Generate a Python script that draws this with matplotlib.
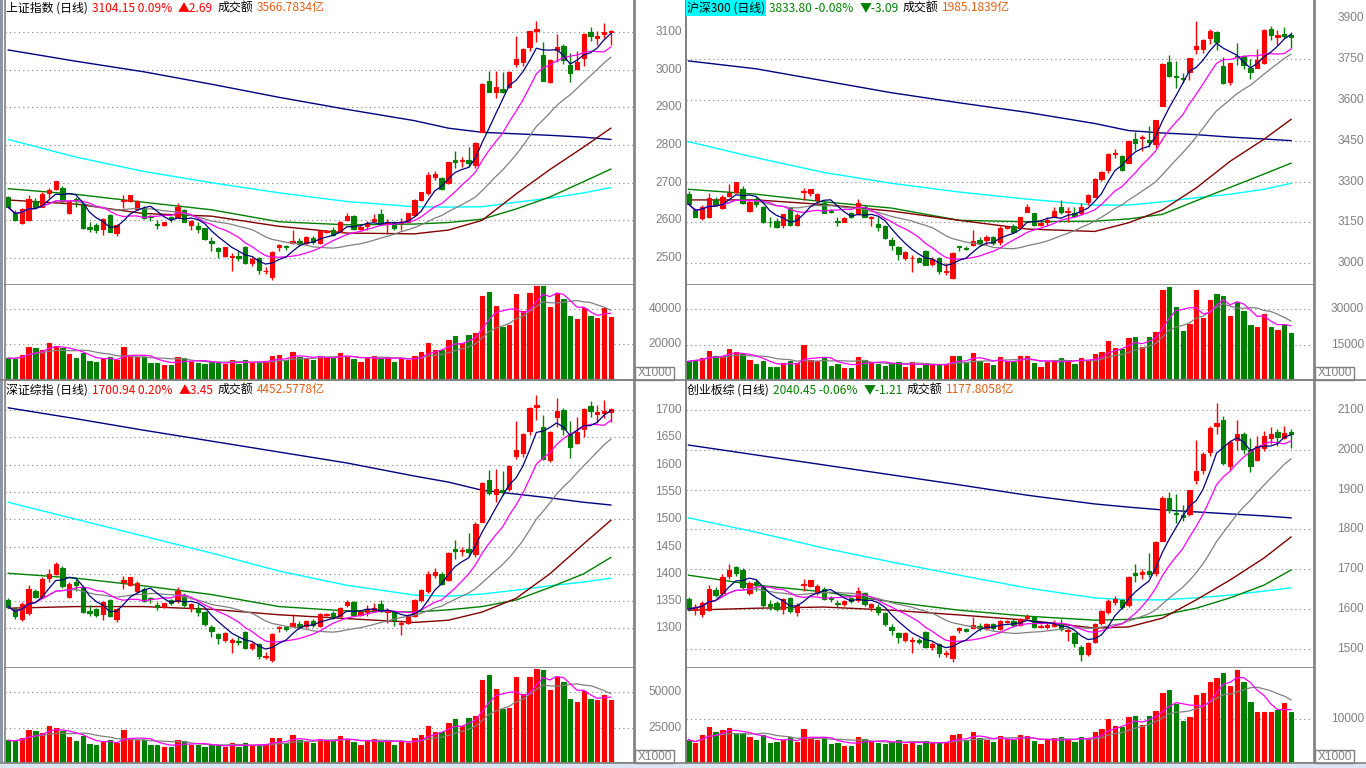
import matplotlib
matplotlib.use("Agg")
import matplotlib.pyplot as plt
import matplotlib.transforms as mtransforms
from matplotlib.patches import Rectangle
from matplotlib.lines import Line2D
import numpy as np
import pandas as pd

plt.rcParams['font.family'] = ['Noto Sans CJK SC', 'DejaVu Sans']

# ---------------- 上证指数 ----------------
sh_open = [2662, 2620, 2594, 2601, 2651, 2636, 2672, 2683, 2687, 2620,
           2656, 2643, 2583, 2588, 2576, 2614, 2567, 2651, 2650, 2629,
           2632, 2611, 2590, 2588, 2610, 2610, 2627, 2588, 2585, 2579,
           2546, 2527, 2505, 2502, 2504, 2530, 2486, 2501, 2464, 2448,
           2530, 2532, 2539, 2545, 2539, 2554, 2539, 2569, 2574, 2570,
           2601, 2612, 2576, 2585, 2598, 2616, 2592, 2594, 2594, 2596,
           2614, 2654, 2672, 2716, 2713, 2698, 2760, 2758, 2760, 2747,
           2836, 2971, 2942, 2948, 2954, 3016, 3022, 3062, 3104, 3040,
           2969, 3053, 3064, 3013, 3002, 3031, 3102, 3086, 3096, 3101]
sh_close = [2635, 2601, 2629, 2656, 2635, 2670, 2681, 2705, 2650, 2651,
            2650, 2579, 2578, 2574, 2604, 2570, 2588, 2655, 2667, 2651,
            2605, 2609, 2587, 2596, 2603, 2636, 2596, 2599, 2576, 2550,
            2539, 2517, 2530, 2505, 2501, 2486, 2497, 2468, 2466, 2515,
            2534, 2528, 2546, 2537, 2555, 2541, 2572, 2572, 2561, 2596,
            2612, 2576, 2583, 2592, 2604, 2596, 2596, 2579, 2596, 2619,
            2654, 2674, 2721, 2723, 2682, 2754, 2756, 2760, 2752, 2805,
            2963, 2942, 2954, 2942, 2995, 3028, 3055, 3103, 3108, 2971,
            3026, 3062, 3026, 2993, 3022, 3096, 3091, 3090, 3101.46, 3104.15]
sh_high = [2664, 2627, 2632, 2667, 2658, 2676, 2685, 2705, 2691, 2654,
           2663, 2645, 2596, 2592, 2605, 2616, 2590, 2667, 2667, 2654,
           2638, 2614, 2601, 2596, 2612, 2647, 2629, 2601, 2596, 2580,
           2555, 2530, 2530, 2514, 2517, 2532, 2503, 2503, 2477, 2517,
           2536, 2534, 2574, 2552, 2557, 2559, 2574, 2574, 2581, 2599,
           2620, 2614, 2588, 2599, 2617, 2629, 2604, 2599, 2605, 2620,
           2656, 2676, 2729, 2731, 2716, 2756, 2783, 2768, 2796, 2807,
           2964, 2998, 2998, 2995, 2997, 3091, 3057, 3104, 3130, 3073,
           3028, 3095, 3068, 3044, 3049, 3097, 3115, 3104, 3125, 3106]
sh_low = [2632, 2599, 2590, 2599, 2631, 2635, 2659, 2681, 2645, 2618,
          2636, 2577, 2570, 2567, 2561, 2568, 2557, 2632, 2648, 2627,
          2604, 2599, 2578, 2586, 2596, 2605, 2595, 2574, 2565, 2548,
          2517, 2499, 2502, 2464, 2493, 2484, 2479, 2457, 2457, 2441,
          2517, 2521, 2537, 2532, 2535, 2536, 2536, 2567, 2558, 2568,
          2599, 2574, 2574, 2574, 2596, 2594, 2563, 2574, 2573, 2595,
          2612, 2650, 2667, 2707, 2681, 2697, 2740, 2743, 2743, 2738,
          2836, 2940, 2926, 2938, 2951, 3009, 3011, 3051, 3075, 2971,
          2966, 3022, 3015, 2969, 3000, 3011, 3078, 3066, 3084, 3066]
sh_vol = [12300, 12100, 14200, 18800, 17900, 17100, 20800, 19400, 17900, 14800,
          12300, 15000, 10800, 10400, 11700, 13100, 11200, 18800, 14200, 12700,
          12700, 9800, 9800, 8500, 8500, 13100, 12300, 10400, 9800, 9200,
          10200, 9800, 8800, 11200, 9200, 11200, 9800, 9800, 10800, 13700,
          14200, 11200, 16000, 13100, 12100, 11200, 13700, 13100, 12300, 15000,
          13500, 12100, 10400, 12300, 13700, 12300, 12700, 10400, 12300, 11200,
          13700, 15600, 20800, 17100, 17100, 22300, 24600, 20800, 25200, 26500,
          47300, 49600, 41500, 30000, 31000, 48300, 38700, 48800, 53100, 53100,
          41000, 48800, 45400, 35800, 34400, 40600, 35800, 35200, 40600, 35667]

# long moving averages at these days
ma_days = [0, 10, 20, 30, 40, 50, 60, 65, 70, 75, 80, 85, 89]
sh_ma60 = [2654, 2643, 2618, 2611, 2584, 2566, 2564, 2574, 2600, 2670, 2735, 2795, 2845]
sh_ma120 = [2684, 2669, 2648, 2628, 2596, 2588, 2590, 2594, 2603, 2630, 2662, 2703, 2736]
sh_ma250 = [2815, 2768, 2730, 2700, 2673, 2650, 2636, 2635, 2636, 2648, 2659, 2673, 2687]
sh_ma500 = [3053, 3023, 2995, 2962, 2927, 2895, 2865, 2845, 2834, 2830, 2826, 2821, 2815]

# ---------------- 沪深300 ----------------
hs_open = [3255, 3196, 3166, 3172, 3233, 3202, 3248, 3261, 3272, 3194,
           3235, 3208, 3153, 3157, 3141, 3202, 3141, 3262, 3257, 3233,
           3223, 3193, 3157, 3153, 3186, 3180, 3208, 3166, 3145, 3137,
           3086, 3061, 3018, 3019, 3018, 3047, 2999, 3018, 2969, 2945,
           3062, 3056, 3067, 3086, 3086, 3098, 3077, 3129, 3137, 3129,
           3190, 3184, 3141, 3151, 3172, 3208, 3187, 3186, 3184, 3227,
           3245, 3310, 3343, 3401, 3395, 3370, 3456, 3460, 3453, 3439,
           3578, 3740, 3689, 3680, 3705, 3787, 3787, 3830, 3849, 3726,
           3668, 3762, 3762, 3717, 3719, 3735, 3860, 3832, 3843, 3840]
hs_close = [3218, 3172, 3208, 3239, 3215, 3245, 3260, 3300, 3223, 3227,
            3218, 3150, 3150, 3135, 3181, 3141, 3178, 3266, 3273, 3255,
            3186, 3187, 3153, 3166, 3172, 3221, 3172, 3169, 3132, 3092,
            3067, 3034, 3043, 3021, 3006, 2994, 3015, 2973, 2972, 3037,
            3060, 3053, 3082, 3076, 3098, 3074, 3129, 3133, 3116, 3169,
            3206, 3141, 3149, 3159, 3192, 3187, 3194, 3174, 3208, 3251,
            3310, 3336, 3402, 3407, 3343, 3451, 3444, 3466, 3447, 3525,
            3733, 3689, 3684, 3676, 3754, 3799, 3821, 3855, 3815, 3664,
            3735, 3757, 3729, 3705, 3748, 3858, 3840, 3840, 3836.89, 3833.80]
hs_high = [3264, 3202, 3214, 3257, 3245, 3251, 3292, 3300, 3284, 3233,
           3245, 3210, 3172, 3165, 3183, 3205, 3184, 3276, 3273, 3257,
           3230, 3198, 3172, 3172, 3189, 3236, 3214, 3174, 3172, 3141,
           3098, 3063, 3047, 3032, 3024, 3049, 3023, 3022, 3000, 3040,
           3064, 3062, 3123, 3096, 3104, 3101, 3136, 3137, 3145, 3172,
           3218, 3184, 3159, 3172, 3208, 3233, 3206, 3206, 3221, 3253,
           3312, 3340, 3407, 3419, 3398, 3453, 3484, 3472, 3505, 3527,
           3735, 3766, 3742, 3701, 3756, 3891, 3823, 3860, 3855, 3760,
           3738, 3811, 3766, 3750, 3787, 3860, 3872, 3858, 3868, 3852]
hs_low = [3214, 3169, 3158, 3166, 3209, 3199, 3243, 3257, 3218, 3190,
          3206, 3147, 3135, 3129, 3129, 3137, 3137, 3233, 3247, 3224,
          3184, 3184, 3138, 3150, 3166, 3177, 3169, 3137, 3120, 3088,
          3049, 3012, 3012, 2969, 3003, 2992, 2991, 2961, 2957, 2941,
          3044, 3050, 3064, 3064, 3067, 3067, 3068, 3125, 3112, 3125,
          3188, 3137, 3137, 3137, 3169, 3181, 3153, 3172, 3178, 3215,
          3243, 3304, 3333, 3387, 3341, 3368, 3415, 3414, 3427, 3424,
          3578, 3684, 3643, 3664, 3674, 3770, 3772, 3805, 3785, 3659,
          3656, 3729, 3713, 3678, 3717, 3733, 3822, 3801, 3827, 3790]
hs_vol = [7900, 8600, 9200, 12200, 10000, 10000, 13200, 11800, 11100, 8400,
          6700, 7900, 5700, 5700, 7100, 8200, 7000, 14700, 8600, 8200,
          9500, 6000, 6700, 5200, 5200, 9600, 8600, 7400, 6700, 6000,
          7000, 7700, 5700, 7400, 5200, 7100, 6700, 6300, 6700, 10000,
          10000, 7400, 11500, 8200, 7000, 6300, 9600, 8200, 7700, 10000,
          10000, 7000, 5700, 7700, 8600, 9200, 8200, 6700, 9200, 8600,
          11100, 11800, 16500, 13500, 13000, 17900, 18300, 14000, 18300, 20100,
          38000, 39500, 31000, 20500, 23700, 38000, 26400, 33600, 36300, 35400,
          27100, 32900, 29000, 23200, 22300, 27800, 22300, 21300, 23400, 19852]
hs_ma60 = [3233, 3233, 3216, 3192, 3158, 3126, 3117, 3149, 3196, 3277, 3375, 3456, 3529]
hs_ma120 = [3272, 3254, 3226, 3203, 3158, 3153, 3155, 3163, 3180, 3230, 3279, 3328, 3368]
hs_ma250 = [3447, 3388, 3334, 3294, 3262, 3236, 3214, 3214, 3226, 3241, 3254, 3272, 3294]
hs_ma500 = [3744, 3715, 3671, 3627, 3590, 3555, 3514, 3488, 3479, 3473, 3464, 3457, 3451]

# ---------------- 深证综指 ----------------
sz_open = [1352, 1335, 1318, 1328, 1368, 1358, 1392, 1400, 1410, 1358,
           1385, 1375, 1332, 1335, 1326, 1352, 1318, 1385, 1380, 1368,
           1372, 1355, 1342, 1340, 1352, 1350, 1362, 1338, 1338, 1330,
           1302, 1290, 1278, 1276, 1277, 1294, 1264, 1272, 1248, 1242,
           1300, 1302, 1304, 1308, 1304, 1314, 1305, 1324, 1328, 1322,
           1342, 1348, 1325, 1330, 1334, 1345, 1330, 1330, 1308, 1310,
           1322, 1352, 1368, 1398, 1400, 1388, 1445, 1441, 1446, 1436,
           1494, 1572, 1546, 1554, 1556, 1615, 1622, 1662, 1705, 1668,
           1608, 1688, 1700, 1655, 1640, 1665, 1708, 1692, 1695, 1697]
sz_close = [1340, 1322, 1345, 1372, 1358, 1390, 1400, 1418, 1378, 1382,
            1380, 1330, 1328, 1325, 1348, 1322, 1335, 1388, 1394, 1384,
            1350, 1353, 1340, 1346, 1347, 1368, 1342, 1345, 1330, 1308,
            1296, 1283, 1292, 1278, 1275, 1265, 1271, 1250, 1250, 1290,
            1303, 1299, 1309, 1303, 1314, 1306, 1326, 1326, 1320, 1338,
            1348, 1325, 1330, 1335, 1338, 1332, 1333, 1315, 1310, 1325,
            1352, 1370, 1400, 1404, 1382, 1438, 1442, 1444, 1440, 1492,
            1566, 1548, 1556, 1549, 1598, 1627, 1656, 1704, 1710, 1610,
            1660, 1698, 1665, 1632, 1660, 1702, 1698, 1696, 1697.49, 1700.94]
sz_high = [1355, 1340, 1348, 1380, 1373, 1395, 1408, 1421, 1414, 1385,
           1390, 1377, 1342, 1338, 1350, 1354, 1338, 1396, 1394, 1386,
           1376, 1357, 1348, 1347, 1354, 1375, 1364, 1347, 1345, 1332,
           1307, 1292, 1293, 1283, 1284, 1295, 1275, 1274, 1256, 1292,
           1305, 1304, 1326, 1313, 1316, 1318, 1328, 1328, 1332, 1340,
           1352, 1350, 1333, 1342, 1346, 1352, 1337, 1332, 1316, 1327,
           1354, 1372, 1405, 1410, 1403, 1440, 1462, 1450, 1475, 1494,
           1568, 1590, 1592, 1588, 1600, 1680, 1658, 1706, 1728, 1690,
           1662, 1722, 1704, 1680, 1688, 1704, 1716, 1710, 1718, 1704]
sz_low = [1337, 1318, 1314, 1325, 1355, 1356, 1385, 1398, 1374, 1355,
          1368, 1328, 1322, 1320, 1316, 1320, 1312, 1372, 1378, 1365,
          1348, 1346, 1333, 1338, 1343, 1347, 1340, 1330, 1322, 1305,
          1285, 1272, 1276, 1255, 1270, 1263, 1260, 1244, 1244, 1238,
          1293, 1295, 1302, 1299, 1301, 1302, 1303, 1322, 1318, 1320,
          1340, 1323, 1323, 1323, 1333, 1330, 1310, 1305, 1288, 1308,
          1320, 1348, 1365, 1392, 1380, 1386, 1428, 1432, 1432, 1430,
          1494, 1545, 1532, 1545, 1552, 1610, 1614, 1655, 1682, 1608,
          1605, 1668, 1655, 1612, 1638, 1650, 1688, 1676, 1686, 1678]
sz_vol = [16000, 15500, 18000, 23500, 22500, 21500, 26000, 24500, 22500, 18500,
          15500, 19000, 13500, 13000, 14500, 16500, 14000, 23500, 18000, 16000,
          16000, 12500, 12500, 11000, 11000, 16500, 15500, 13000, 12500, 11500,
          13000, 12500, 11000, 14000, 11500, 14000, 12500, 12500, 13500, 17500,
          18000, 14000, 20000, 16500, 15000, 14000, 17000, 16500, 15500, 19000,
          17000, 15000, 13000, 15500, 17000, 15500, 16000, 13000, 15500, 14000,
          17500, 20000, 26500, 22000, 22000, 28500, 31000, 26500, 32000, 33500,
          59000, 62000, 52000, 38000, 39000, 60500, 48500, 61000, 66500, 66000,
          51500, 61000, 57000, 45000, 43000, 51000, 45000, 44500, 48000, 44526]
sz_ma60 = [1337, 1340, 1340, 1335, 1325, 1318, 1311, 1315, 1330, 1355, 1400, 1455, 1498]
sz_ma120 = [1401, 1392, 1378, 1362, 1340, 1332, 1330, 1334, 1340, 1352, 1375, 1400, 1430]
sz_ma250 = [1531, 1500, 1469, 1438, 1405, 1379, 1361, 1359, 1363, 1370, 1378, 1385, 1392]
sz_ma500 = [1704, 1684, 1663, 1643, 1623, 1603, 1579, 1568, 1553, 1546, 1539, 1531, 1526]

# ---------------- 创业板综 ----------------
cy_open = [1625, 1598, 1588, 1598, 1648, 1640, 1682, 1705, 1698, 1640,
           1668, 1655, 1612, 1615, 1600, 1628, 1592, 1660, 1658, 1640,
           1650, 1628, 1615, 1612, 1628, 1622, 1640, 1606, 1605, 1590,
           1556, 1540, 1522, 1520, 1522, 1542, 1505, 1512, 1488, 1478,
           1548, 1550, 1552, 1558, 1552, 1562, 1550, 1568, 1570, 1560,
           1578, 1580, 1555, 1556, 1558, 1565, 1546, 1540, 1505, 1488,
           1518, 1565, 1592, 1618, 1622, 1610, 1690, 1688, 1695, 1690,
           1772, 1878, 1842, 1835, 1838, 1925, 1950, 1995, 2060, 2075,
           1960, 2025, 2040, 2000, 1975, 2005, 2030, 2045, 2030, 2045]
cy_close = [1600, 1606, 1615, 1650, 1635, 1680, 1698, 1690, 1655, 1665,
            1660, 1610, 1608, 1600, 1625, 1595, 1610, 1664, 1672, 1658,
            1625, 1625, 1612, 1620, 1620, 1645, 1612, 1612, 1592, 1562,
            1548, 1530, 1540, 1522, 1518, 1505, 1512, 1490, 1490, 1532,
            1552, 1546, 1560, 1552, 1562, 1552, 1570, 1570, 1560, 1575,
            1582, 1555, 1558, 1560, 1562, 1550, 1548, 1515, 1488, 1515,
            1562, 1595, 1620, 1625, 1605, 1680, 1685, 1692, 1688, 1768,
            1880, 1848, 1838, 1830, 1898, 1948, 1990, 2055, 2068, 1968,
            2020, 2040, 2002, 1960, 2010, 2035, 2040, 2032, 2041.66, 2040.45]
cy_high = [1630, 1612, 1620, 1660, 1655, 1688, 1712, 1708, 1702, 1670,
           1675, 1658, 1622, 1620, 1628, 1630, 1614, 1675, 1674, 1662,
           1655, 1632, 1622, 1622, 1630, 1655, 1643, 1615, 1612, 1592,
           1562, 1543, 1542, 1530, 1528, 1544, 1518, 1515, 1498, 1535,
           1555, 1553, 1580, 1565, 1565, 1566, 1572, 1573, 1575, 1578,
           1588, 1582, 1562, 1568, 1572, 1575, 1552, 1542, 1510, 1518,
           1565, 1598, 1625, 1632, 1626, 1684, 1712, 1700, 1740, 1772,
           1884, 1895, 1890, 1862, 1900, 2025, 1994, 2060, 2118, 2085,
           2024, 2075, 2045, 2030, 2035, 2048, 2058, 2052, 2060, 2052]
cy_low = [1595, 1585, 1580, 1595, 1630, 1636, 1675, 1682, 1650, 1636,
          1645, 1605, 1598, 1595, 1588, 1590, 1583, 1645, 1655, 1636,
          1622, 1618, 1605, 1608, 1615, 1618, 1608, 1596, 1585, 1558,
          1535, 1515, 1518, 1490, 1512, 1502, 1498, 1480, 1480, 1468,
          1540, 1542, 1550, 1546, 1548, 1548, 1548, 1564, 1556, 1558,
          1575, 1552, 1552, 1550, 1556, 1546, 1520, 1505, 1470, 1482,
          1515, 1560, 1588, 1610, 1600, 1606, 1668, 1675, 1680, 1682,
          1770, 1842, 1815, 1822, 1834, 1915, 1940, 1985, 2040, 1962,
          1950, 2000, 1990, 1945, 1972, 1998, 2015, 2010, 2028, 2005]
cy_vol = [5300, 4500, 6400, 8200, 7100, 7600, 7900, 6600, 6900, 5900,
          5300, 6400, 4600, 4800, 5300, 5900, 4800, 7800, 5600, 5300,
          6000, 4300, 4600, 4000, 4000, 6000, 5500, 5000, 4600, 4400,
          4800, 5200, 4300, 5000, 4100, 5000, 4600, 4600, 4800, 6400,
          6600, 5200, 7000, 5700, 5200, 4800, 6200, 5600, 5200, 6400,
          6200, 5000, 4300, 5200, 5700, 5900, 5500, 4800, 6000, 5700,
          7200, 7800, 10000, 8500, 8300, 10500, 10800, 8800, 10800, 12000,
          16000, 16800, 13500, 9500, 10500, 15500, 16000, 18600, 19500, 20500,
          17700, 21300, 18600, 14000, 11700, 11700, 11700, 12100, 13800, 11778]
cy_ma60 = [1597, 1602, 1605, 1597, 1585, 1572, 1552, 1555, 1577, 1623, 1673, 1728, 1781]
cy_ma120 = [1685, 1660, 1643, 1618, 1597, 1582, 1572, 1574, 1585, 1602, 1628, 1660, 1698]
cy_ma250 = [1829, 1793, 1753, 1718, 1685, 1653, 1628, 1623, 1623, 1628, 1635, 1645, 1653]
cy_ma500 = [2012, 1987, 1962, 1937, 1912, 1886, 1864, 1856, 1849, 1844, 1839, 1834, 1829]

W, H = 1366, 768
RED = '#FF0000'
GREEN = '#008000'
GRAY = '#808080'
NAVY = '#000080'
MAGENTA = '#FF00FF'
MAROON = '#800000'
CYAN = '#00FFFF'
ORANGE = '#E0601A'
LABEL_FONT = ['Liberation Sans', 'DejaVu Sans']
FS = 8.6

fig = plt.figure(figsize=(W / 100, H / 100), dpi=100)
fig.patch.set_facecolor('white')


def px_axes(x0, y0, x1, y1):
    return fig.add_axes([x0 / W, 1 - y1 / H, (x1 - x0) / W, (y1 - y0) / H])


def frame(ax, xlim, ylim, grid):
    ax.set_xlim(*xlim)
    ax.set_ylim(*ylim)
    ax.set_xticks([])
    ax.set_yticks([])
    for s in ax.spines.values():
        s.set_color(GRAY)
        s.set_linewidth(1.2)
    ax.spines['top'].set_visible(False)
    for g in grid:
        ax.axhline(g, color=GRAY, lw=0.8, ls=(0, (1, 3)), zorder=0)


def labels(ax, levels, xpos):
    tr = mtransforms.blended_transform_factory(ax.transAxes, ax.transData)
    for v in levels:
        ax.text(xpos, v, str(v), transform=tr, ha='right', va='center', color=GRAY,
                fontsize=FS, family=LABEL_FONT, clip_on=False)


def candles(ax_p, ax_v, o, h, l, c, v, longs):
    o, h, l, c, v = (np.asarray(a, float) for a in (o, h, l, c, v))
    x = np.arange(len(c))
    col = np.where(c >= o, RED, GREEN)
    for vals, color in longs:
        ax_p.plot(ma_days, vals, color=color, lw=1.0, zorder=2)
    ax_p.vlines(x, l, h, colors=col, lw=1.0, zorder=3)
    ax_p.bar(x, np.abs(c - o), bottom=np.minimum(o, c), width=0.64, color=col,
             edgecolor=col, linewidth=0.8, zorder=4)
    cs = pd.Series(c)
    ax_p.plot(x, cs.rolling(20, min_periods=1).mean(), color=GRAY, lw=0.9, zorder=5)
    ax_p.plot(x, cs.rolling(10, min_periods=1).mean(), color=MAGENTA, lw=0.9, zorder=5)
    ax_p.plot(x, cs.rolling(5, min_periods=1).mean(), color=NAVY, lw=0.9, zorder=5)
    ax_v.bar(x, v, width=0.64, color=col, edgecolor=col, linewidth=0.8, zorder=2)
    vs = pd.Series(v)
    ax_v.plot(x, vs.rolling(10, min_periods=1).mean(), color=GRAY, lw=0.9, zorder=3)
    ax_v.plot(x, vs.rolling(5, min_periods=1).mean(), color=MAGENTA, lw=0.9, zorder=3)


def title(x_px, y_px, pieces):
    r = fig.canvas.get_renderer()
    x = x_px
    for s, color, bg, gap in pieces:
        kw = {}
        if bg:
            kw['bbox'] = dict(facecolor=bg, edgecolor='none', pad=0.8)
        t = fig.text(x / W, 1 - y_px / H, s, color=color, fontsize=FS,
                     ha='left', va='center', **kw)
        x += t.get_window_extent(r).width + gap


def x1000(x_px, y_px):
    fig.add_artist(Rectangle((x_px / W, 1 - y_px / H), 39 / W, 13.5 / H,
                             transform=fig.transFigure, facecolor='white',
                             edgecolor=GRAY, lw=1.0))
    fig.text((x_px + 19.5) / W, 1 - (y_px - 6.5) / H, 'X1000', color=GRAY,
             fontsize=FS, family=LABEL_FONT, ha='center', va='center')


XL = ((5 - 8.3) / 6.77, (634 - 8.3) / 6.77)
XR = ((686 - 688.5) / 6.77, (1314 - 688.5) / 6.77)
LPOS = (682 - 5) / 629
RPOS = (1364 - 686) / 628

# top-left: 上证指数
ax1 = px_axes(5, 0, 634, 285)
ax1v = px_axes(5, 285, 634, 380)
frame(ax1, XL, (2427.9, 3185.9), range(2500, 3101, 100))
frame(ax1v, XL, (0, 53521), [20000, 40000])
candles(ax1, ax1v, sh_open, sh_high, sh_low, sh_close, sh_vol,
        [(sh_ma500, NAVY), (sh_ma250, CYAN), (sh_ma120, GREEN), (sh_ma60, MAROON)])
labels(ax1, range(2500, 3101, 100), LPOS)
labels(ax1v, [20000, 40000], LPOS)

# top-right: 沪深300
ax2 = px_axes(686, 0, 1314, 285)
ax2v = px_axes(686, 285, 1314, 380)
frame(ax2, XR, (2920.2, 3968.0), range(3000, 3751, 150))
frame(ax2v, XR, (0, 40141), [15000, 30000])
candles(ax2, ax2v, hs_open, hs_high, hs_low, hs_close, hs_vol,
        [(hs_ma500, NAVY), (hs_ma250, CYAN), (hs_ma120, GREEN), (hs_ma60, MAROON)])
labels(ax2, range(3000, 3901, 150), RPOS)
labels(ax2v, [15000, 30000], RPOS)

# bottom-left: 深证综指
ax3 = px_axes(5, 381, 634, 668)
ax3v = px_axes(5, 668, 634, 763)
frame(ax3, XL, (1227.5, 1753.1), range(1300, 1701, 50))
frame(ax3v, XL, (0, 67185), [25000, 50000])
candles(ax3, ax3v, sz_open, sz_high, sz_low, sz_close, sz_vol,
        [(sz_ma500, NAVY), (sz_ma250, CYAN), (sz_ma120, GREEN), (sz_ma60, MAROON)])
labels(ax3, range(1300, 1701, 50), LPOS)
labels(ax3v, [25000, 50000], LPOS)

# bottom-right: 创业板综
ax4 = px_axes(686, 381, 1314, 668)
ax4v = px_axes(686, 668, 1314, 763)
frame(ax4, XR, (1451.8, 2172.9), range(1500, 2101, 100))
frame(ax4v, XR, (0, 21739), [10000])
candles(ax4, ax4v, cy_open, cy_high, cy_low, cy_close, cy_vol,
        [(cy_ma500, NAVY), (cy_ma250, CYAN), (cy_ma120, GREEN), (cy_ma60, MAROON)])
labels(ax4, range(1500, 2101, 100), RPOS)
labels(ax4v, [10000], RPOS)

# separators and decorations
for y in (380.5, 763):
    fig.add_artist(Line2D([0, 1], [1 - y / H] * 2, transform=fig.transFigure, color=GRAY, lw=1.2))
for x in (634.5, 685.5, 1314.5):
    fig.add_artist(Line2D([x / W] * 2, [1 - 763 / H, 1], transform=fig.transFigure, color=GRAY, lw=1.2))
fig.add_artist(Rectangle((0, 1 - 763 / H), 2.5 / W, 763 / H, transform=fig.transFigure,
                         facecolor='#8C96A8', edgecolor='none'))
fig.add_artist(Rectangle((0, 0), 1, 5 / H, transform=fig.transFigure,
                         facecolor='#DCE6F2', edgecolor='none'))
x1000(635, 380)
x1000(1315, 380)
x1000(635, 763)
x1000(1315, 763)

title(6, 8, [('上证指数 (日线)', 'black', None, 4), ('3104.15 0.09%', RED, None, 6),
             ('▲2.69', RED, None, 4), ('成交额', 'black', None, 4), ('3566.7834亿', ORANGE, None, 0)])
title(687, 8, [('沪深300 (日线)', 'black', CYAN, 4), ('3833.80 -0.08%', GREEN, None, 6),
               ('▼-3.09', GREEN, None, 4), ('成交额', 'black', None, 4), ('1985.1839亿', ORANGE, None, 0)])
title(6, 390, [('深证综指 (日线)', 'black', None, 4), ('1700.94 0.20%', RED, None, 6),
               ('▲3.45', RED, None, 4), ('成交额', 'black', None, 4), ('4452.5778亿', ORANGE, None, 0)])
title(687, 390, [('创业板综 (日线)', 'black', None, 4), ('2040.45 -0.06%', GREEN, None, 6),
                 ('▼-1.21', GREEN, None, 4), ('成交额', 'black', None, 4), ('1177.8058亿', ORANGE, None, 0)])

fig.savefig('out.png', dpi=100)
